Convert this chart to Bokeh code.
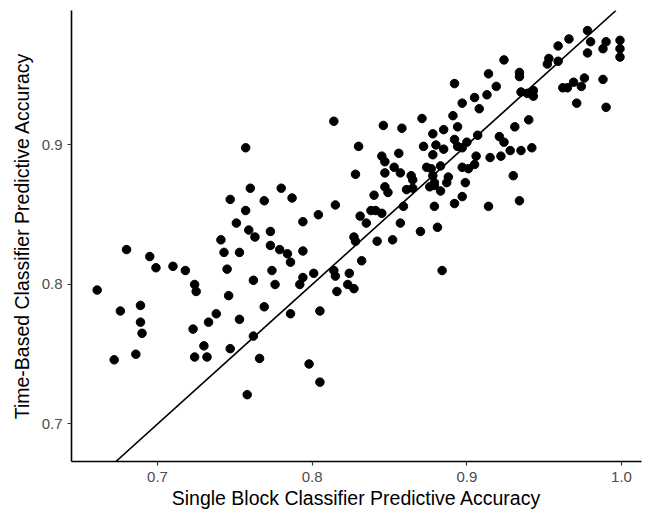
from bokeh.plotting import figure
from bokeh.models import Range1d, Slope, FixedTicker, PrintfTickFormatter
from bokeh.embed import file_html
from bokeh.resources import INLINE

# Single block classifier accuracy (x) vs time-based classifier accuracy (y)
single_block = [
    0.741, 0.743, 0.745, 0.680, 0.695, 0.699, 0.710, 0.718, 0.724, 0.725,
    0.661, 0.689, 0.676, 0.746, 0.689, 0.690, 0.686, 0.672, 0.738, 0.733,
    0.723, 0.730, 0.724, 0.732, 0.747, 0.814, 0.846, 0.757, 0.830, 0.845,
    0.847, 0.828, 0.847, 0.760, 0.780, 0.747, 0.769, 0.787, 0.815, 0.840,
    0.847, 0.838, 0.841, 0.757, 0.751, 0.804, 0.794, 0.831, 0.845, 0.835,
    0.759, 0.763, 0.773, 0.773, 0.779, 0.784, 0.786, 0.794, 0.753, 0.774,
    0.762, 0.776, 0.794, 0.792, 0.801, 0.814, 0.815, 0.824, 0.823, 0.827,
    0.816, 0.827, 0.828, 0.842, 0.832, 0.769, 0.753, 0.786, 0.805, 0.762,
    0.766, 0.798, 0.805, 0.758, 0.924, 0.914, 0.934, 0.934, 0.892, 0.919,
    0.935, 0.939, 0.943, 0.943, 0.905, 0.913, 0.897, 0.908, 0.871, 0.891,
    0.940, 0.858, 0.885, 0.894, 0.931, 0.878, 0.892, 0.907, 0.921, 0.880,
    0.894, 0.897, 0.900, 0.872, 0.885, 0.924, 0.928, 0.935, 0.942, 0.878,
    0.856, 0.906, 0.915, 0.922, 0.874, 0.877, 0.883, 0.853, 0.897, 0.901,
    0.905, 0.857, 0.864, 0.865, 0.849, 0.861, 0.865, 0.878, 0.879, 0.876,
    0.879, 0.888, 0.887, 0.899, 0.883, 0.930, 0.897, 0.892, 0.879, 0.859,
    0.914, 0.934, 0.857, 0.870, 0.881, 0.852, 0.884, 0.978, 0.966, 0.959,
    0.980, 0.990, 0.988, 0.999, 0.999, 0.999, 0.978, 0.953, 0.952, 0.959,
    0.962, 0.965, 0.969, 0.976, 0.974, 0.988, 0.971, 0.990,
]
time_based = [
    0.832, 0.823, 0.811, 0.825, 0.820, 0.812, 0.813, 0.810, 0.800, 0.795,
    0.796, 0.785, 0.781, 0.792, 0.773, 0.765, 0.750, 0.746, 0.779, 0.773,
    0.768, 0.756, 0.748, 0.748, 0.754, 0.917, 0.914, 0.898, 0.899, 0.892,
    0.888, 0.879, 0.880, 0.869, 0.869, 0.861, 0.860, 0.862, 0.857, 0.864,
    0.870, 0.853, 0.853, 0.853, 0.844, 0.850, 0.845, 0.849, 0.851, 0.844,
    0.839, 0.834, 0.838, 0.828, 0.825, 0.822, 0.816, 0.824, 0.823, 0.810,
    0.803, 0.800, 0.805, 0.800, 0.808, 0.810, 0.806, 0.808, 0.800, 0.797,
    0.795, 0.834, 0.831, 0.831, 0.817, 0.784, 0.775, 0.779, 0.781, 0.763,
    0.747, 0.743, 0.730, 0.721, 0.961, 0.951, 0.952, 0.949, 0.944, 0.942,
    0.938, 0.937, 0.939, 0.935, 0.934, 0.936, 0.930, 0.926, 0.919, 0.921,
    0.918, 0.912, 0.911, 0.913, 0.913, 0.908, 0.904, 0.907, 0.906, 0.900,
    0.899, 0.898, 0.902, 0.899, 0.897, 0.902, 0.896, 0.896, 0.898, 0.893,
    0.894, 0.892, 0.891, 0.892, 0.884, 0.883, 0.885, 0.884, 0.884, 0.883,
    0.886, 0.880, 0.878, 0.875, 0.866, 0.868, 0.869, 0.878, 0.873, 0.870,
    0.871, 0.877, 0.873, 0.873, 0.867, 0.878, 0.863, 0.858, 0.856, 0.856,
    0.856, 0.860, 0.844, 0.838, 0.841, 0.832, 0.810, 0.982, 0.976, 0.971,
    0.974, 0.974, 0.969, 0.975, 0.969, 0.963, 0.966, 0.962, 0.958, 0.960,
    0.941, 0.941, 0.945, 0.948, 0.942, 0.947, 0.930, 0.927,
]

x_ticks = [0.7, 0.8, 0.9, 1.0]
y_ticks = [0.7, 0.8, 0.9]
x_title = "Single Block Classifier Predictive Accuracy"
y_title = "Time-Based Classifier Predictive Accuracy"

p = figure(
    width=647, height=511,
    x_range=Range1d(0.6444, 1.0129), y_range=Range1d(0.6731, 0.9964),
    output_backend="svg", toolbar_location=None,
    min_border_left=71, min_border_right=6, min_border_top=10, min_border_bottom=50,
)
p.outline_line_color = None
p.xgrid.visible = False
p.ygrid.visible = False
p.background_fill_color = "white"
p.border_fill_color = "white"

p.scatter(single_block, time_based, size=8.5, color="black")
p.add_layout(Slope(gradient=1, y_intercept=0, line_color="black", line_width=1.6))

for ax, ticks in ((p.xaxis[0], x_ticks), (p.yaxis[0], y_ticks)):
    ax.ticker = FixedTicker(ticks=ticks)
    ax.formatter = PrintfTickFormatter(format="%.1f")
    ax.minor_tick_line_color = None
    ax.major_tick_out = 4
    ax.major_tick_in = 0
    ax.major_tick_line_color = "#333333"
    ax.major_tick_line_width = 1.2
    ax.axis_line_color = "black"
    ax.axis_line_width = 1.6
    ax.major_label_text_font = "Liberation Sans"
    ax.major_label_text_font_size = "15px"
    ax.major_label_text_color = "#4D4D4D"
    ax.axis_label_text_font = "Liberation Sans"
    ax.axis_label_text_font_size = "19.5px"
    ax.axis_label_text_font_style = "normal"
    ax.axis_label_text_color = "black"

p.xaxis[0].axis_label = x_title
p.yaxis[0].axis_label = y_title
p.xaxis[0].major_label_standoff = 6
p.xaxis[0].axis_label_standoff = 2
p.yaxis[0].major_label_standoff = 5
p.yaxis[0].axis_label_standoff = 6

open("out.html", "w").write(file_html(p, INLINE))
